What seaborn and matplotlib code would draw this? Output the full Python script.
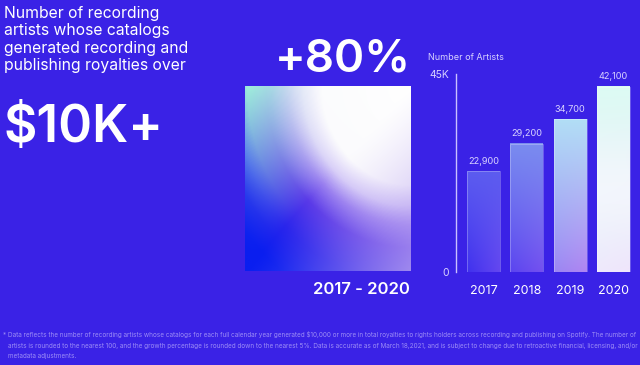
import numpy as np
import matplotlib.pyplot as plt
import seaborn as sns
from matplotlib.colors import LinearSegmentedColormap, to_rgb

# data
years = ["2017", "2018", "2019", "2020"]
artists = [22900, 29200, 34700, 42100]
value_labels = ["22,900", "29,200", "34,700", "42,100"]
y_ticks = [0, 45000]
y_tick_labels = ["0", "45K"]
growth_label = "+80%"
period_label = "2017 - 2020"
title_lines = "Number of recording\nartists whose catalogs\ngenerated recording and\npublishing royalties over"
big_label = "$10K+"
footnote = ("Data reflects the number of recording artists whose catalogs for each full calendar year generated "
            "$10,000 or more in total royalties to rights holders across recording and publishing on Spotify. The number of\n"
            "artists is rounded to the nearest 100, and the growth percentage is rounded down to the nearest 5%. "
            "Data is accurate as of March 18,2021, and is subject to change due to retroactive financial, licensing, and/or\n"
            "metadata adjustments.")

# per-bar gradient colours (top, bottom-left, bottom-right)
bar_top = ["#5c5cf0", "#7a8cf0", "#b2def6", "#dcfbf3"]
bar_bl = ["#3f30ee", "#5a44ef", "#9a86f3", "#eee8fc"]
bar_br = ["#6446f0", "#7450f0", "#b084f2", "#efe4fc"]

BG = "#3a22e6"
LIGHT = "#d9d3ff"

sns.set_theme(style="white")
plt.rcParams['font.family'] = ['Inter', 'DejaVu Sans']

fig = plt.figure(figsize=(6.4, 3.65), dpi=100, facecolor=BG)


def blend(img, color, w):
    c = np.array(to_rgb(color)) if isinstance(color, str) else color
    return img * (1 - w[..., None]) + c * w[..., None]


# big gradient square: glow from the top-right corner, mint top-left
ax2 = fig.add_axes([245 / 640, 94 / 365, 166 / 640, 185 / 365])
u, v = np.meshgrid(np.linspace(0, 1, 200), np.linspace(0, 1, 220))
r = np.clip(np.sqrt((1 - u) ** 2 + v ** 2) / np.sqrt(2), 0, 1)
b = u - (1 - v)
sq_cmap = LinearSegmentedColormap.from_list(
    "sq", [(0, "#ffffff"), (0.38, "#fbfbfd"), (0.46, "#d8cef8"), (0.53, "#9a80f0"),
           (0.62, "#5a3ae8"), (0.76, "#2a26ec"), (0.9, "#0a1ef0"), (1, "#0a1ef0")])
mint_cmap = LinearSegmentedColormap.from_list(
    "mint", [(0, "#ffffff"), (0.4, "#fbfdfd"), (0.5, "#e2faf3"), (0.6, "#b2f5e2"),
             (0.7, "#a0f2da"), (0.75, "#78bce8"), (0.82, "#3a60e8"), (0.95, "#0a1ef0"),
             (1, "#0a1ef0")])
sq = sq_cmap(r)[..., :3]
sq = blend(sq, mint_cmap(r)[..., :3], np.clip(-b, 0, 1) ** 1.0)
sq = blend(sq, "#b8a0f0", 0.8 * np.clip(b, 0, 1) ** 1.3)
ax2.imshow(np.clip(sq, 0, 1), aspect="auto", interpolation="bilinear")
ax2.axis("off")

# bar chart
ax = fig.add_axes([456 / 640, 93 / 365, 176 / 640, 198 / 365])
ax.set_facecolor(BG)
sns.barplot(x=years, y=artists, ax=ax, color="#5a45ef", width=0.76, saturation=1)

hh, vv = np.meshgrid(np.linspace(0, 1, 50), np.linspace(0, 1, 120))
for i, patch in enumerate(ax.patches):
    x0, w = patch.get_x(), patch.get_width()
    h = patch.get_height()
    bottom = blend(np.zeros(hh.shape + (3,)) + np.array(to_rgb(bar_bl[i])), bar_br[i], hh)
    img = blend(bottom, bar_top[i], vv ** 0.9)
    if i == 3:
        img = blend(img, "#fbfaff", 0.6 * np.exp(-((vv - 0.45) ** 2) / (2 * 0.2 ** 2)))
    patch.set_facecolor("none")
    patch.set_edgecolor((1, 1, 1, 0.3))
    patch.set_linewidth(0.6)
    patch.set_zorder(3)
    ax.imshow(np.clip(img, 0, 1), extent=(x0, x0 + w, 0, h), origin="lower",
              aspect="auto", interpolation="bilinear", zorder=2)
ax.set_xlim(-0.635, 3.43)
ax.set_ylim(0, 45000)

ax.bar_label(ax.containers[0], labels=value_labels, padding=4, color=LIGHT, fontsize=6.6)
ax.set_yticks(y_ticks)
ax.set_yticklabels(y_tick_labels)
ax.tick_params(axis="y", length=0, pad=5, labelcolor=LIGHT, labelsize=7.5)
ax.tick_params(axis="x", length=0, pad=9, labelcolor="white", labelsize=9)
for s in ["top", "right", "bottom"]:
    ax.spines[s].set_visible(False)
ax.spines["left"].set_color("#c9c0ff")
ax.spines["left"].set_linewidth(1)
ax.set_xlabel("")
ax.set_ylabel("")

# texts
fig.text(428 / 640, 1 - 57 / 365, "Number of Artists", color=LIGHT, fontsize=6.5, va="center")
fig.text(343 / 640, 1 - 59 / 365, growth_label, color="white", fontsize=33, fontweight="semibold",
         ha="center", va="center")
fig.text(410 / 640, 1 - 290 / 365, period_label, color="white", fontsize=12, fontweight="semibold",
         ha="right", va="center")
fig.text(4 / 640, 1 - 6 / 365, title_lines, color="white", fontsize=11.3, va="top", linespacing=1.2)
fig.text(3 / 640, 1 - 128 / 365, big_label, color="white", fontsize=37, fontweight="semibold",
         va="center", parse_math=False)
fig.text(3 / 640, 1 - 331 / 365, "*", color="#9c8cf6", fontsize=4.5, va="top")
fig.text(8 / 640, 1 - 331 / 365, footnote, color="#9c8cf6", fontsize=4.6, va="top",
         linespacing=1.85, parse_math=False)

fig.savefig("out.png", dpi=100, facecolor=BG)
